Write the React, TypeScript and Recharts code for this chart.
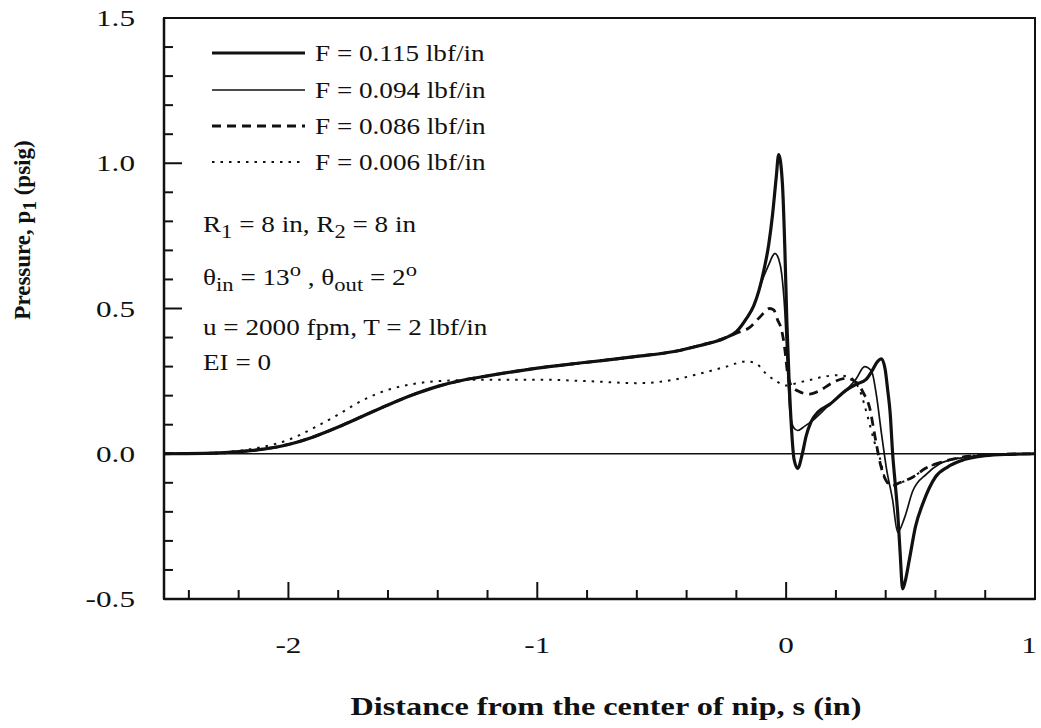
import { LineChart, Line, XAxis, YAxis, ReferenceLine, ReferenceArea } from "recharts"

// inlet part shared by the three heavier-load curves, s (in) and p1 (psig)
const SHARED_S = [-2.5, -2.3, -2.2, -2.1, -2.0, -1.9, -1.8, -1.7, -1.6, -1.5, -1.4, -1.3, -1.2, -1.0, -0.8, -0.6, -0.45, -0.35, -0.25]
const SHARED_P = [0, 0.002, 0.007, 0.016, 0.032, 0.058, 0.092, 0.13, 0.168, 0.203, 0.232, 0.253, 0.268, 0.295, 0.315, 0.335, 0.352, 0.372, 0.397]

// F = 0.115 lbf/in
const S_115 = [-0.2, -0.16, -0.13, -0.11, -0.09, -0.07, -0.055, -0.04, -0.03, -0.015, -0.005, 0.003, 0.012, 0.022, 0.032, 0.046, 0.065, 0.08, 0.1, 0.13, 0.175, 0.243, 0.283, 0.32, 0.345, 0.365, 0.383, 0.398, 0.408, 0.418, 0.428, 0.438, 0.448, 0.458, 0.468, 0.478, 0.496, 0.52, 0.55, 0.6, 0.65, 0.7, 0.8, 0.9, 1.0]
const P_115 = [0.42, 0.465, 0.51, 0.56, 0.63, 0.72, 0.82, 0.95, 1.03, 0.93, 0.7, 0.45, 0.25, 0.08, -0.02, -0.05, 0.0, 0.06, 0.11, 0.145, 0.17, 0.22, 0.24, 0.255, 0.285, 0.315, 0.327, 0.29, 0.22, 0.14, 0.0, -0.1, -0.2, -0.34, -0.465, -0.44, -0.36, -0.25, -0.17, -0.08, -0.045, -0.025, -0.007, -0.002, 0]

// F = 0.094 lbf/in
const S_094 = [-0.2, -0.16, -0.13, -0.11, -0.09, -0.07, -0.055, -0.045, -0.03, -0.018, -0.006, 0.005, 0.015, 0.03, 0.046, 0.075, 0.107, 0.175, 0.243, 0.283, 0.315, 0.343, 0.363, 0.383, 0.403, 0.428, 0.448, 0.476, 0.508, 0.564, 0.616, 0.7, 0.8, 0.9, 1.0]
const P_094 = [0.42, 0.465, 0.51, 0.56, 0.61, 0.65, 0.68, 0.69, 0.67, 0.62, 0.5, 0.3, 0.15, 0.09, 0.08, 0.095, 0.115, 0.17, 0.22, 0.26, 0.3, 0.285, 0.2, 0.07, -0.05, -0.16, -0.27, -0.22, -0.13, -0.07, -0.035, -0.015, -0.005, -0.001, 0]

// F = 0.086 lbf/in
const S_086 = [-0.2, -0.146, -0.106, -0.066, -0.05, -0.034, -0.018, -0.006, 0.006, 0.02, 0.05, 0.094, 0.134, 0.187, 0.24, 0.283, 0.31, 0.335, 0.36, 0.38, 0.4, 0.425, 0.455, 0.51, 0.56, 0.62, 0.7, 0.8, 1.0]
const P_086 = [0.415, 0.435, 0.47, 0.5, 0.495, 0.46, 0.425, 0.365, 0.275, 0.235, 0.215, 0.205, 0.217, 0.245, 0.26, 0.245, 0.21, 0.16, 0.045, -0.04, -0.09, -0.11, -0.1, -0.08, -0.05, -0.03, -0.013, -0.004, 0]

// F = 0.006 lbf/in
const S_006 = [-2.5, -2.3, -2.2, -2.1, -2.0, -1.9, -1.8, -1.7, -1.6, -1.5, -1.4, -1.2, -1.0, -0.8, -0.59, -0.45, -0.35, -0.24, -0.16, -0.12, -0.08, -0.04, 0.0, 0.05, 0.1, 0.15, 0.2, 0.25, 0.275, 0.295, 0.33, 0.355, 0.375, 0.4, 0.43, 0.46, 0.51, 0.56, 0.62, 0.7, 0.8, 1.0]
const P_006 = [0, 0.003, 0.01, 0.024, 0.048, 0.088, 0.135, 0.185, 0.22, 0.24, 0.25, 0.255, 0.255, 0.25, 0.243, 0.255, 0.275, 0.3, 0.318, 0.31, 0.275, 0.25, 0.235, 0.245, 0.255, 0.265, 0.27, 0.265, 0.25, 0.22, 0.12, 0.04, -0.01, -0.09, -0.11, -0.1, -0.08, -0.05, -0.03, -0.013, -0.004, 0]

const X_TICKS = [-2.4, -2.2, -2, -1.8, -1.6, -1.4, -1.2, -1, -0.8, -0.6, -0.4, -0.2, 0, 0.2, 0.4, 0.6, 0.8, 1]
const Y_TICKS = [-0.5, -0.4, -0.3, -0.2, -0.1, 0, 0.1, 0.2, 0.3, 0.4, 0.5, 0.6, 0.7, 0.8, 0.9, 1.0, 1.1, 1.2, 1.3, 1.4, 1.5]

const toPoints = (s: number[], p: number[]) => s.map((x, i) => ({ s: x, p: p[i] }))

const SERIES = [
  { name: "F = 0.115 lbf/in", data: toPoints([...SHARED_S, ...S_115], [...SHARED_P, ...P_115]), width: 3.2, dash: undefined },
  { name: "F = 0.094 lbf/in", data: toPoints([...SHARED_S, ...S_094], [...SHARED_P, ...P_094]), width: 1.7, dash: undefined },
  { name: "F = 0.086 lbf/in", data: toPoints([...SHARED_S, ...S_086], [...SHARED_P, ...P_086]), width: 2.8, dash: "9 6" },
  { name: "F = 0.006 lbf/in", data: toPoints(S_006, P_006), width: 2, dash: "2.5 6" },
]

const FONT = "'Liberation Serif', 'Times New Roman', serif"
const INK = "#111"
const STRETCH = 1.18
const TICK_STRETCH = 1.3

const isMajor = (v: number, step: number) => Math.abs(v / step - Math.round(v / step)) < 1e-6

const XTick = (props: any) => {
  const { x, y, payload } = props
  const major = isMajor(payload.value, 1)
  const last = payload.value >= 1
  return (
    <g>
      {!last && <line x1={x} x2={x} y1={y} y2={y - (major ? 17 : 9)} stroke={INK} strokeWidth={2} />}
      {major && (
        <text transform={`translate(${last ? x - 6 : x},${y + 46}) scale(${TICK_STRETCH},1)`} textAnchor="middle" dominantBaseline="central"
          fontFamily={FONT} fontSize={24} fill={INK}>
          {payload.value}
        </text>
      )}
    </g>
  )
}

const YTick = (props: any) => {
  const { x, y, payload } = props
  const major = isMajor(payload.value, 0.5)
  return (
    <g>
      <line x1={x} x2={x + (major ? 18 : 9)} y1={y} y2={y} stroke={INK} strokeWidth={2} />
      {major && (
        <text transform={`translate(${x - 29},${y}) scale(${TICK_STRETCH},1)`} textAnchor="end" dominantBaseline="central"
          fontFamily={FONT} fontSize={24} fill={INK}>
          {payload.value.toFixed(1)}
        </text>
      )}
    </g>
  )
}

const textStyle: React.CSSProperties = {
  position: "absolute",
  fontFamily: FONT,
  fontSize: 23,
  color: INK,
  whiteSpace: "nowrap",
  transform: `translateY(-50%) scaleX(${STRETCH})`,
  transformOrigin: "left center",
  lineHeight: 1,
}

const NOTES = [
  { top: 227, content: <>R<sub>1</sub> = 8 in, R<sub>2</sub> = 8 in</> },
  { top: 277, content: <>θ<sub>in</sub> = 13<sup>o</sup> , θ<sub>out</sub> = 2<sup>o</sup></> },
  { top: 327, content: <>u = 2000 fpm, T = 2 lbf/in</> },
  { top: 362, content: <>EI = 0</> },
]

const LEGEND_ROWS = [53, 90, 126, 162]

export default function App() {
  return (
    <div style={{ position: "absolute", left: 0, top: 0, width: 1041, height: 728, background: "#fff" }}>
      <LineChart width={1041} height={728} margin={{ top: 18, right: 6, bottom: 69, left: 64 }}>
        <XAxis dataKey="s" type="number" domain={[-2.5, 1]} ticks={X_TICKS} interval={0} allowDataOverflow
          tick={XTick} tickLine={false} tickSize={0} tickMargin={0} height={60}
          axisLine={{ stroke: INK, strokeWidth: 2.5 }} />
        <YAxis type="number" domain={[-0.5, 1.5]} ticks={Y_TICKS} interval={0} allowDataOverflow
          tick={YTick} tickLine={false} tickSize={0} tickMargin={0} width={100}
          axisLine={{ stroke: INK, strokeWidth: 2.5 }} />
        <ReferenceArea x1={-2.5} x2={1} y1={-0.5} y2={1.5} fill="none" stroke={INK} strokeWidth={2} />
        <ReferenceLine y={0} stroke={INK} strokeWidth={1.4} />
        {SERIES.map((sr) => (
          <Line key={sr.name} data={sr.data} dataKey="p" type="monotone" stroke={INK} strokeWidth={sr.width}
            strokeDasharray={sr.dash} dot={false} activeDot={false} isAnimationActive={false} />
        ))}
      </LineChart>

      {SERIES.map((sr, i) => (
        <div key={sr.name}>
          <svg style={{ position: "absolute", left: 210, top: LEGEND_ROWS[i] - 5 }} width={96} height={10}>
            <line x1={2} x2={95} y1={5} y2={5} stroke={INK} strokeWidth={sr.width} strokeDasharray={sr.dash} />
          </svg>
          <div style={{ ...textStyle, left: 315, top: LEGEND_ROWS[i] }}>{sr.name}</div>
        </div>
      ))}

      {NOTES.map((n) => (
        <div key={n.top} style={{ ...textStyle, left: 203, top: n.top }}>{n.content}</div>
      ))}

      <div style={{ ...textStyle, fontWeight: "bold", fontSize: 26, left: 606, top: 707, transform: "translate(-50%,-50%) scaleX(1.24)", transformOrigin: "center" }}>
        Distance from the center of nip, s (in)
      </div>
      <div style={{ ...textStyle, fontWeight: "bold", fontSize: 23, left: 25, top: 230, transform: "translate(-50%,-50%) rotate(-90deg)", transformOrigin: "center" }}>
        Pressure, p<sub>1</sub> (psig)
      </div>
    </div>
  )
}
